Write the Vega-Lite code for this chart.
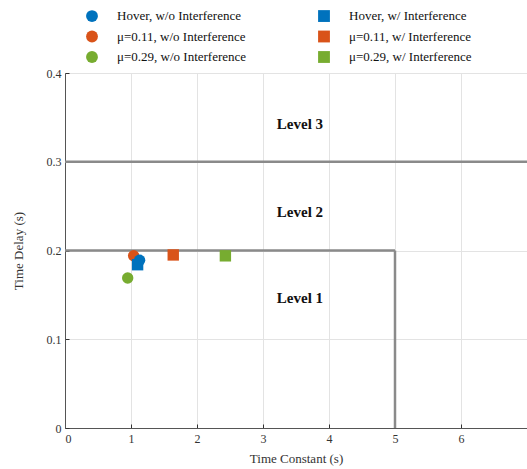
{
  "$schema": "https://vega.github.io/schema/vega-lite/v6.json",
  "width": 462,
  "height": 355,
  "autosize": {"type": "none"},
  "padding": {"left": 65, "top": 73, "right": 0, "bottom": 41},
  "config": {
    "font": "Liberation Serif",
    "view": {"stroke": "#555555", "strokeWidth": 1},
    "axis": {
      "labelFont": "Liberation Serif",
      "titleFont": "Liberation Serif",
      "labelFontSize": 12,
      "titleFontSize": 13,
      "titleFontWeight": "normal",
      "labelColor": "#333333",
      "titleColor": "#333333",
      "gridColor": "#e3e3e3",
      "domainColor": "#555555",
      "tickColor": "#333333",
      "tickSize": -4
    },
    "legend": {
      "labelFont": "Liberation Serif",
      "labelFontSize": 13,
      "labelColor": "#111111"
    }
  },
  "layer": [
    {
      "data": {"values": [
        {"x": 0, "x2": 5, "y": 0.2, "y2": 0.2},
        {"x": 5, "x2": 5, "y": 0, "y2": 0.2},
        {"x": 0, "x2": 7, "y": 0.3, "y2": 0.3}
      ]},
      "mark": {"type": "rule", "color": "#8a8a8a", "strokeWidth": 2.5},
      "encoding": {
        "x": {"field": "x", "type": "quantitative", "scale": {"domain": [0, 7], "nice": false}, "axis": {"title": "Time Constant (s)", "values": [0, 1, 2, 3, 4, 5, 6], "format": "d", "labelPadding": 9, "titlePadding": 8}},
        "x2": {"field": "x2"},
        "y": {"field": "y", "type": "quantitative", "scale": {"domain": [0, 0.4], "nice": false}, "axis": {"title": "Time Delay (s)", "values": [0, 0.1, 0.2, 0.3, 0.4], "format": "~g", "titlePadding": 21, "labelPadding": 8}},
        "y2": {"field": "y2"}
      }
    },
    {
      "data": {"values": [
        {"label": "Level 3", "x": 3.56, "y": 0.343},
        {"label": "Level 2", "x": 3.56, "y": 0.243},
        {"label": "Level 1", "x": 3.56, "y": 0.146}
      ]},
      "mark": {"type": "text", "font": "Liberation Serif", "fontWeight": "bold", "fontSize": 15, "color": "#111111"},
      "encoding": {
        "x": {"field": "x", "type": "quantitative"},
        "y": {"field": "y", "type": "quantitative"},
        "text": {"field": "label"}
      }
    },
    {
      "data": {"values": [
        {"series": "μ=0.29, w/o Interference", "x": 0.95, "y": 0.169},
        {"series": "μ=0.11, w/o Interference", "x": 1.04, "y": 0.194},
        {"series": "Hover, w/o Interference", "x": 1.13, "y": 0.189},
        {"series": "Hover, w/ Interference", "x": 1.1, "y": 0.184},
        {"series": "μ=0.11, w/ Interference", "x": 1.64, "y": 0.195},
        {"series": "μ=0.29, w/ Interference", "x": 2.43, "y": 0.194}
      ]},
      "mark": {"type": "point", "filled": true, "opacity": 1, "size": 130},
      "encoding": {
        "x": {"field": "x", "type": "quantitative"},
        "y": {"field": "y", "type": "quantitative"},
        "color": {
          "field": "series", "type": "nominal",
          "scale": {
            "domain": ["Hover, w/o Interference", "μ=0.11, w/o Interference", "μ=0.29, w/o Interference", "Hover, w/ Interference", "μ=0.11, w/ Interference", "μ=0.29, w/ Interference"],
            "range": ["#0072BD", "#D95319", "#77AC30", "#0072BD", "#D95319", "#77AC30"]
          },
          "legend": {"title": null, "orient": "none", "legendX": 20, "legendY": -64, "columns": 2, "columnPadding": 68, "rowPadding": 2.5, "symbolSize": 140, "labelOffset": 18, "symbolOpacity": 1}
        },
        "shape": {
          "field": "series", "type": "nominal",
          "scale": {
            "domain": ["Hover, w/o Interference", "μ=0.11, w/o Interference", "μ=0.29, w/o Interference", "Hover, w/ Interference", "μ=0.11, w/ Interference", "μ=0.29, w/ Interference"],
            "range": ["circle", "circle", "circle", "square", "square", "square"]
          },
          "legend": {"title": null, "orient": "none", "legendX": 20, "legendY": -64, "columns": 2, "columnPadding": 68, "rowPadding": 2.5, "symbolSize": 140, "labelOffset": 18, "symbolOpacity": 1}
        }
      }
    }
  ]
}
